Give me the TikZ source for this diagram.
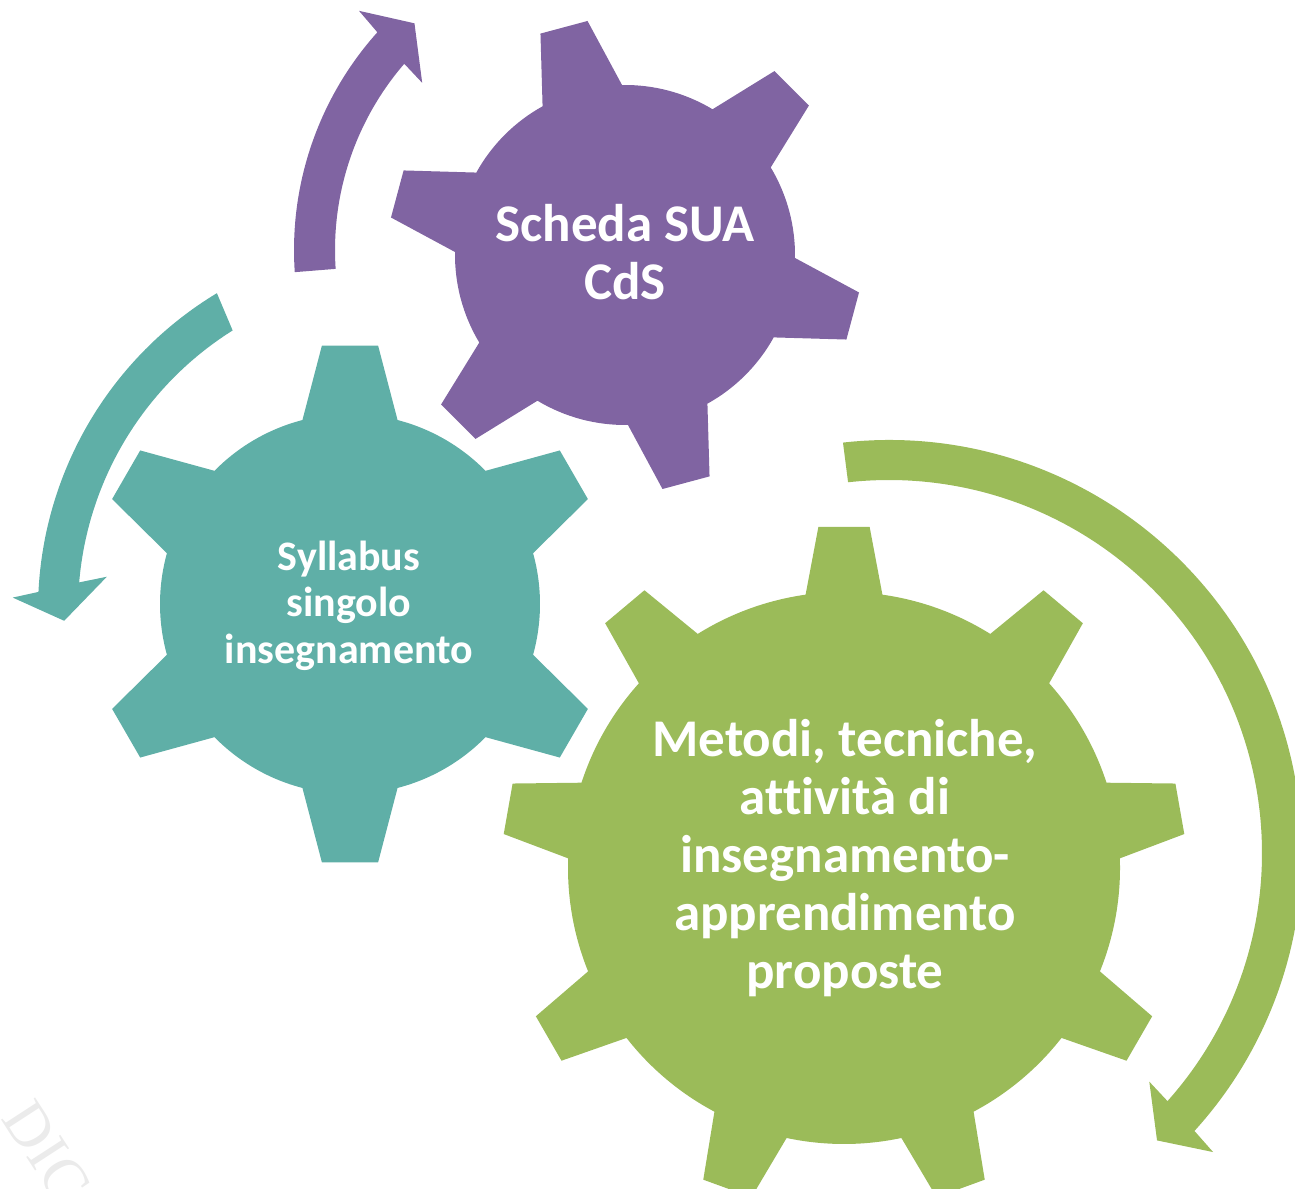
\documentclass[tikz,border=0pt]{standalone}
\usepackage{fontspec}
\setmainfont{Carlito}[Ligatures=NoCommon]
\newfontfamily\wmfont{Liberation Serif}
\usepackage{xcolor}
\usepackage{tikz}
\usetikzlibrary{calc}

\definecolor{suaviola}{HTML}{8064A2}
\definecolor{sylteal}{HTML}{5FAFA7}
\definecolor{metverde}{HTML}{9BBB59}

\tikzset{
	geartext/.style={text=white, align=center, inner sep=0pt},
}

\begin{document}
\begin{tikzpicture}[x=1pt,y=1pt]
						\useasboundingbox (0,0) rectangle (1295,1188);
						\clip (0,0) rectangle (1295,1188);
						
						\coordinate (S) at (625,933);
						\coordinate (Y) at (350,584);
						\coordinate (M) at (844,320);
						
						\fill[suaviola,shift={(S)}] (91:170) \foreach \a in {105,165,...,405} { -- (\a-5.9:237) -- (\a+5.9:237) -- (\a+14:170) arc[start angle=\a+14, end angle=\a+46, radius=170] } -- cycle;
						\fill[sylteal,shift={(Y)}] (15.5:190) \foreach \a in {30,90,...,330} { -- (\a-6.2:260) -- (\a+6.2:260) -- (\a+14.5:190) arc[start angle=\a+14.5, end angle=\a+45.5, radius=190] } -- cycle;
						\fill[metverde,shift={(M)}] (82:276) \foreach \a in {90,130,...,410} { -- (\a-4.3:342) -- (\a+4.3:342) -- (\a+8:276) arc[start angle=\a+8, end angle=\a+32, radius=276] } -- cycle;
						
						\fill[suaviola,shift={(620,938)}] (183.9:326) arc[start angle=183.9, end angle=138.1, radius=326] -- (137.5:354) -- (132.2:306) -- (139.8:259) -- (139.2:285) arc[start angle=139.2, end angle=183.8, radius=285] -- cycle;
						\fill[sylteal,shift={(408,578)}] (121.1:370) arc[start angle=121.1, end angle=177.2, radius=370] -- (178.2:395.5) -- (181.8:344) -- (173.7:303) -- (175.2:330) arc[start angle=175.2, end angle=122.1, radius=330] -- cycle;
						\fill[metverde,shift={(889,335)}] (96.4:413) arc[start angle=96.4, end angle=-42.3, radius=413] -- (-42.7:441) -- (-47:393) -- (-41.3:346.5) -- (-41.7:373) arc[start angle=-41.7, end angle=96.3, radius=373] -- cycle;
						
						\node (sua) at (625,935.5) [geartext, font=\bfseries\fontsize{53}{58}\selectfont] {Scheda SUA\\CdS};
						\node (syllabus) at (349,582.5) [geartext, font=\bfseries\fontsize{42}{46.5}\selectfont] {Syllabus\\singolo\\insegnamento};
						\node (metodi) at (845,330) [geartext, font=\bfseries\fontsize{53}{58}\selectfont] {Metodi, tecniche,\\attività di\\insegnamento-\\apprendimento\\proposte};
						\node (filigrana) at (47,36) [text=black!8, font=\wmfont\fontsize{62}{62}\selectfont, rotate=-57] {DIC};
					\end{tikzpicture}
\end{document}
